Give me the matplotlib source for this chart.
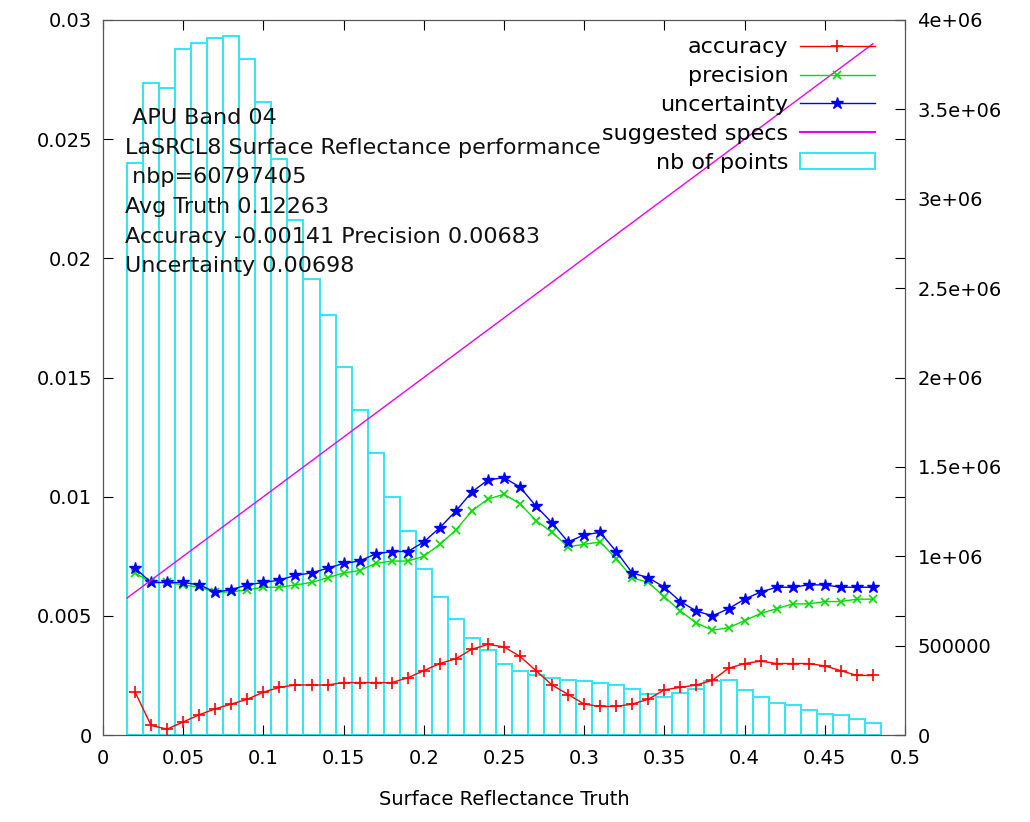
import numpy as np
import matplotlib
matplotlib.use('Agg')
import matplotlib.pyplot as plt
from matplotlib.patches import Patch
from matplotlib.lines import Line2D

# data
truth = [0.02, 0.03, 0.04, 0.05, 0.06, 0.07, 0.08, 0.09, 0.10, 0.11,
         0.12, 0.13, 0.14, 0.15, 0.16, 0.17, 0.18, 0.19, 0.20, 0.21,
         0.22, 0.23, 0.24, 0.25, 0.26, 0.27, 0.28, 0.29, 0.30, 0.31,
         0.32, 0.33, 0.34, 0.35, 0.36, 0.37, 0.38, 0.39, 0.40, 0.41,
         0.42, 0.43, 0.44, 0.45, 0.46, 0.47, 0.48]

accuracy = [0.0018, 0.0004, 0.00025, 0.00055, 0.00085, 0.0011, 0.0013, 0.0015, 0.0018, 0.0020,
            0.0021, 0.0021, 0.0021, 0.0022, 0.0022, 0.0022, 0.0022, 0.0024, 0.0027, 0.0030,
            0.0032, 0.0036, 0.0038, 0.0037, 0.0033, 0.0027, 0.0021, 0.0017, 0.0013, 0.0012,
            0.0012, 0.0013, 0.0015, 0.0019, 0.0020, 0.0021, 0.0023, 0.0028, 0.0030, 0.0031,
            0.0030, 0.0030, 0.0030, 0.0029, 0.0027, 0.0025, 0.0025]

precision = [0.0068, 0.0064, 0.0064, 0.0063, 0.0062, 0.0060, 0.0060, 0.0061, 0.0062, 0.0062,
             0.0063, 0.0064, 0.0066, 0.0068, 0.0069, 0.0072, 0.0073, 0.0073, 0.0075, 0.0080,
             0.0086, 0.0094, 0.0099, 0.0101, 0.0097, 0.0090, 0.0085, 0.0079, 0.0080, 0.0081,
             0.0074, 0.0066, 0.0064, 0.0058, 0.0052, 0.0047, 0.0044, 0.0045, 0.0048, 0.0051,
             0.0053, 0.0055, 0.0055, 0.0056, 0.0056, 0.0057, 0.0057]

uncertainty = [0.0070, 0.0064, 0.0064, 0.0064, 0.0063, 0.0060, 0.0061, 0.0063, 0.0064, 0.0065,
               0.0067, 0.0068, 0.0070, 0.0072, 0.0073, 0.0076, 0.0077, 0.0077, 0.0081, 0.0087,
               0.0094, 0.0102, 0.0107, 0.0108, 0.0104, 0.0096, 0.0089, 0.0081, 0.0084, 0.0085,
               0.0077, 0.0068, 0.0066, 0.0062, 0.0056, 0.0052, 0.0050, 0.0053, 0.0057, 0.0060,
               0.0062, 0.0062, 0.0063, 0.0063, 0.0062, 0.0062, 0.0062]

nb_points = [3.20e6, 3.65e6, 3.62e6, 3.84e6, 3.87e6, 3.90e6, 3.91e6, 3.78e6, 3.54e6, 3.22e6,
             2.88e6, 2.55e6, 2.35e6, 2.06e6, 1.82e6, 1.58e6, 1.33e6, 1.14e6, 0.93e6, 0.77e6,
             0.65e6, 0.54e6, 0.475e6, 0.40e6, 0.36e6, 0.335e6, 0.32e6, 0.31e6, 0.30e6, 0.29e6,
             0.28e6, 0.26e6, 0.23e6, 0.21e6, 0.235e6, 0.26e6, 0.30e6, 0.31e6, 0.25e6, 0.21e6,
             0.18e6, 0.17e6, 0.14e6, 0.12e6, 0.11e6, 0.09e6, 0.07e6]

spec_x = [0.015, 0.48]
spec_y = [0.00575, 0.029]

info_lines = [" APU Band 04",
              "LaSRCL8 Surface Reflectance performance",
              " nbp=60797405",
              "Avg Truth 0.12263",
              "Accuracy -0.00141 Precision 0.00683",
              "Uncertainty 0.00698"]

y2_ticks = [0, 500000, 1e6, 1.5e6, 2e6, 2.5e6, 3e6, 3.5e6, 4e6]
y2_labels = ["0", "500000", "1e+06", "1.5e+06", "2e+06", "2.5e+06", "3e+06", "3.5e+06", "4e+06"]

plt.rcParams['font.family'] = ['DejaVu Sans']
tick_fs = 14
text_fs = 16

RED = '#ff0000'
GREEN = '#00dd00'
BLUE = '#0000ff'
MAGENTA = '#ee00ee'
CYAN = '#30e8f0'

fig = plt.figure(figsize=(10.3, 8.22), dpi=100)
ax = fig.add_axes([0.1, 0.1058, 0.7786, 0.8699])
ax2 = ax.twinx()

# histogram on the right axis, drawn under the curves
ax2.bar(truth, nb_points, width=0.01, fill=False, edgecolor=CYAN, linewidth=1.4)
ax2.set_ylim(0, 4e6)
ax2.set_yticks(y2_ticks)
ax2.set_yticklabels(y2_labels, fontsize=tick_fs)
ax2.tick_params(axis='y', direction='in', length=7, pad=9)

ax.set_zorder(ax2.get_zorder() + 1)
ax.patch.set_visible(False)

ax.plot(truth, accuracy, color=RED, marker='+', markersize=9, mew=1.2, lw=1)
ax.plot(truth, precision, color=GREEN, marker='x', markersize=6, mew=1.2, lw=1)
ax.plot(truth, uncertainty, color=BLUE, marker='*', markersize=9, lw=1)
ax.plot(spec_x, spec_y, color=MAGENTA, lw=1)

ax.set_xlim(0, 0.5)
ax.set_ylim(0, 0.03)
ax.set_xticks(np.linspace(0, 0.5, 11))
ax.set_xticklabels(["0", "0.05", "0.1", "0.15", "0.2", "0.25", "0.3", "0.35", "0.4", "0.45", "0.5"], fontsize=tick_fs)
ax.set_yticks(np.linspace(0, 0.03, 7))
ax.set_yticklabels(["0", "0.005", "0.01", "0.015", "0.02", "0.025", "0.03"], fontsize=tick_fs)
ax.tick_params(direction='in', length=7, top=True, right=True, labelright=False, pad=8)
ax.tick_params(axis='x', pad=10)
ax.set_xlabel("Surface Reflectance Truth", fontsize=tick_fs, labelpad=16)

for sp in list(ax.spines.values()) + list(ax2.spines.values()):
    sp.set_color('#555555')

ax.text(0.0137, 0.0263, "\n".join(info_lines), fontsize=text_fs, va='top', ha='left',
        linespacing=1.6, color='#111111')

handles = [Line2D([], [], color=RED, marker='+', markersize=9, mew=1.2, lw=1),
           Line2D([], [], color=GREEN, marker='x', markersize=6, mew=1.2, lw=1),
           Line2D([], [], color=BLUE, marker='*', markersize=9, lw=1),
           Line2D([], [], color=MAGENTA, lw=1.5),
           Patch(facecolor='none', edgecolor=CYAN, lw=1.4)]
labels = ["accuracy", "precision", "uncertainty", "suggested specs", "nb of points"]
ax.legend(handles, labels, loc='upper right', bbox_to_anchor=(0.974, 0.988),
          frameon=False, markerfirst=False, fontsize=text_fs, handlelength=3.4,
          labelspacing=0.4, borderaxespad=0, handletextpad=0.5)

fig.savefig('out.png', dpi=100)
